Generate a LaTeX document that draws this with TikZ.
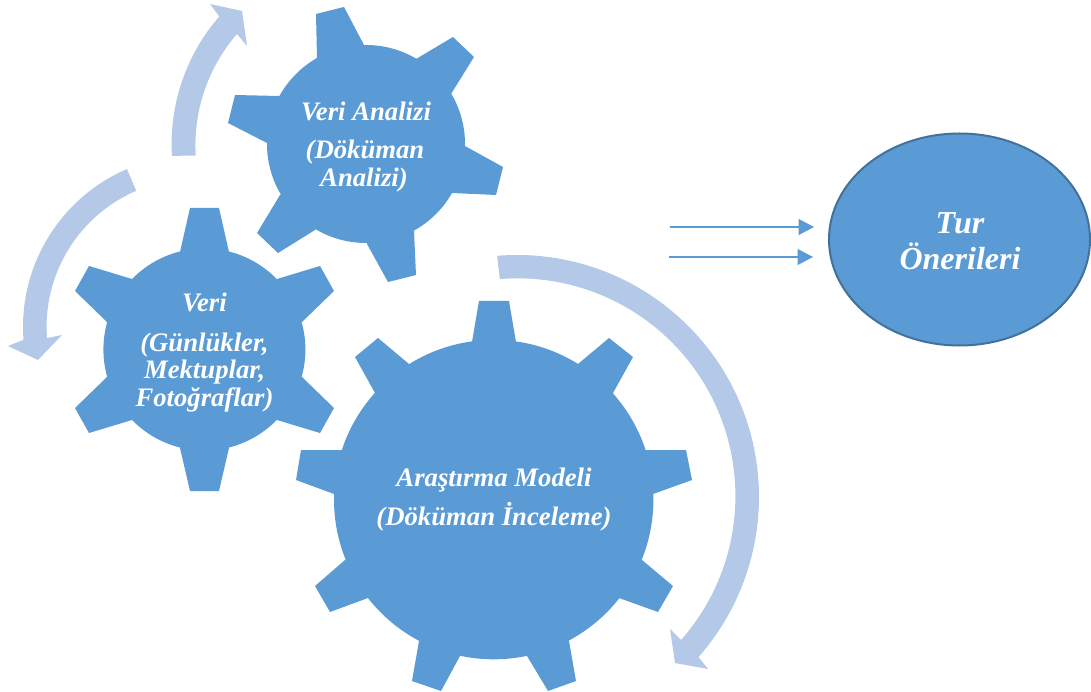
\documentclass[tikz,border=0pt]{standalone}
\usepackage{fontspec}
\setmainfont{Liberation Serif}
\usetikzlibrary{arrows.meta,shapes.geometric}
\definecolor{gearblue}{HTML}{5B9BD5}
\definecolor{ringblue}{HTML}{B4C9E7}
\definecolor{edgeblue}{HTML}{41719C}
\tikzset{
  gearpart/.style={fill=gearblue,draw=none},
  ringarrow/.style={fill=ringblue,draw=none},
  gearlabel/.style={anchor=base,inner sep=0pt,text=white,font=\fontsize{26.7}{27}\selectfont\bfseries\itshape},
  tourlabel/.style={anchor=base,inner sep=0pt,text=white,font=\fontsize{32}{32}\selectfont\bfseries\itshape},
  flowline/.style={draw=gearblue,line width=1.2pt,-{Triangle[length=15.5pt,width=16pt]}},
}
\begin{document}
\begin{tikzpicture}[x=1pt,y=-1pt]
\useasboundingbox (0,0) rectangle (1091,692);
% ring arrows
\fill[ringarrow] (366,144) ++(183.5:194.4pt) arc (183.5:139:194.4pt) -- (210,4) -- (242,11) -- (247,46) -- (237,34) arc (139:183.5:169.5pt) -- cycle;
\fill[ringarrow] (195,327) ++(113.3:172pt) arc (113.3:184.3:172pt) -- (8,346) -- (38,360) -- (62,335) -- (47,338) arc (184.3:113.3:148.2pt) -- cycle;
\fill[ringarrow] (517,497) ++(94.7:242pt) arc (94.7:-41.4:242pt) -- (708,669) -- (675,663) -- (670,629) -- (681,640) arc (-41.4:94.7:217.7pt) -- cycle;
% gear 1
\fill[gearpart] (366,144) circle[radius=99pt];
\foreach \a/\b/\c/\d in {{(317,58)}/{(316,14)}/{(344,7)}/{(364,45)},{(416,59)}/{(453,37)}/{(474,57)}/{(451,94)},{(465,146)}/{(503,167)}/{(496,195)}/{(452,193)},{(414,231)}/{(416,275)}/{(388,282)}/{(367,244)},{(315,230)}/{(278,253)}/{(257,233)}/{(280,195)},{(267,143)}/{(228,123)}/{(235,95)}/{(279,96)}}
  \fill[gearpart] (366,144) -- \a -- \b -- \c -- \d -- cycle;
% gear 2
\fill[gearpart] (204.4,349.5) circle[radius=101pt];
\foreach \a/\b/\c/\d in {{(180,252)}/{(190,208)}/{(219,208)}/{(229,252)},{(277,279)}/{(320,266)}/{(334,291)}/{(302,322)},{(302,377)}/{(334,408)}/{(320,433)}/{(277,420)},{(229,448)}/{(219,491)}/{(190,491)}/{(180,448)},{(132,420)}/{(89,433)}/{(75,408)}/{(107,377)},{(107,322)}/{(75,291)}/{(89,266)}/{(132,279)}}
  \fill[gearpart] (204.4,349.5) -- \a -- \b -- \c -- \d -- cycle;
% gear 3
\fill[gearpart] (493.7,499.6) circle[radius=159.7pt];
\foreach \a/\b/\c/\d in {{(472,342)}/{(479,301)}/{(509,301)}/{(516,342)},{(578,364)}/{(609,338)}/{(633,357)}/{(613,393)},{(645,450)}/{(686,450)}/{(692,480)}/{(653,494)},{(642,560)}/{(673,586)}/{(658,612)}/{(619,598)},{(569,641)}/{(576,681)}/{(548,691)}/{(527,656)},{(460,656)}/{(441,691)}/{(412,681)}/{(419,641)},{(368,598)}/{(330,612)}/{(315,586)}/{(345,560)},{(334,494)}/{(296,480)}/{(301,450)}/{(342,450)},{(375,393)}/{(355,357)}/{(378,338)}/{(409,364)}}
  \fill[gearpart] (493.7,499.6) -- \a -- \b -- \c -- \d -- cycle;
% gear labels
\node[gearlabel] (g1a) at (366,121) {Veri Analizi};
\node[gearlabel] (g1b) at (365,159) {(Döküman};
\node[gearlabel] (g1c) at (364,187) {Analizi)};
\node[gearlabel] (g2a) at (204.5,312) {Veri};
\node[gearlabel] (g2b) at (204.5,351) {(Günlükler,};
\node[gearlabel] (g2c) at (204.5,378) {Mektuplar,};
\node[gearlabel] (g2d) at (204.5,406) {Fotoğraflar)};
\node[gearlabel] (g3a) at (494,486) {Araştırma Modeli};
\node[gearlabel] (g3b) at (494,525) {(Döküman İnceleme)};
% result
\node[ellipse,fill=gearblue,draw=edgeblue,line width=2pt,minimum width=261pt,minimum height=212pt,inner sep=0pt] (tour) at (959.5,239.5) {};
\node[tourlabel] (t1) at (960,234) {Tur};
\node[tourlabel] (t2) at (960,270) {Önerileri};
% flow arrows
\coordinate (f1s) at (670,227);
\coordinate (f1e) at (814,227);
\coordinate (f2s) at (669,257);
\coordinate (f2e) at (813,257);
\draw[flowline] (f1s) -- (f1e);
\draw[flowline] (f2s) -- (f2e);
\end{tikzpicture}
\end{document}
